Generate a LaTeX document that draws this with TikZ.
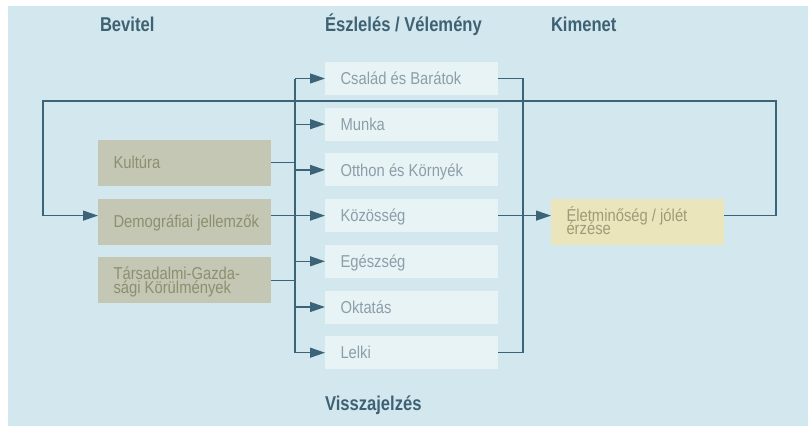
\documentclass[tikz,border=0pt]{standalone}
\usepackage{fontspec}
\usepackage{tikz}
\usetikzlibrary{arrows.meta,positioning}

\newfontfamily\boxfont{Liberation Sans}[FakeStretch=0.86]
\newfontfamily\headfont{Liberation Sans Bold}[FakeStretch=0.83]

\definecolor{bgblue}{HTML}{D3E7EE}
\definecolor{midfill}{HTML}{E8F3F6}
\definecolor{tanfill}{HTML}{C5C7B5}
\definecolor{outfill}{HTML}{EBE5BC}
\definecolor{linecol}{HTML}{3B6478}
\definecolor{headcol}{HTML}{3E6274}
\definecolor{midtext}{HTML}{8C9EA8}
\definecolor{tantext}{HTML}{8D8F6E}
\definecolor{outtext}{HTML}{A09A78}

\begin{document}
\begin{tikzpicture}[x=1pt,y=-1pt,line width=1.2pt,draw=linecol,
  >={Triangle[length=15pt,width=10pt]}]
\tikzstyle{every node}=[outer sep=0pt,inner ysep=0pt,inner xsep=15.5pt,text width=142pt,
  align=flush left,
  font={\boxfont\fontsize{17.2pt}{13.5pt}\selectfont\lineskiplimit=-20pt},
  text height=12.3pt,text depth=0pt]
\tikzstyle{midbox}=[fill=midfill,text=midtext,minimum height=33pt]
\tikzstyle{inbox}=[fill=tanfill,text=tantext,minimum height=46pt]
\tikzstyle{outbox}=[fill=outfill,text=outtext,minimum height=46pt]
\tikzstyle{twolines}=[text depth=13.5pt]
\tikzstyle{head}=[anchor=base west,inner sep=0pt,text width=,text height=,text depth=,
  text=headcol,font={\headfont\fontsize{20pt}{22pt}\selectfont}]

\useasboundingbox (0,0) rectangle (808,426);
\fill[bgblue] (8,6) rectangle (808,426);

% column titles
\node[head] (tin)   at (100,31) {Bevitel};
\node[head] (tmid)  at (325,31) {Észlelés / Vélemény};
\node[head] (tout)  at (551,31) {Kimenet};
\node[head] (tback) at (325,410) {Visszajelzés};

% perception boxes
\node[midbox] (csalad)   at (411.5,78.5)        {Család és Barátok};
\node[midbox] (munka)    [below=12.7pt of csalad]   {Munka};
\node[midbox] (otthon)   [below=12.7pt of munka]    {Otthon és Környék};
\node[midbox] (kozosseg) [below=12.7pt of otthon]   {Közösség};
\node[midbox] (egeszseg) [below=12.7pt of kozosseg] {Egészség};
\node[midbox] (oktatas)  [below=12.7pt of egeszseg] {Oktatás};
\node[midbox] (lelki)    [below=12.7pt of oktatas]  {Lelki};

% input boxes
\node[inbox] (demog)   at (184.5,221.5)       {\mbox{Demográfiai jellemzők}};
\node[inbox] (kultura) [above=12.9pt of demog] {Kultúra};
\node[inbox,twolines] (tars) [below=12.9pt of demog] {Társadalmi-Gazda-\\sági Körülmények};

% output box
\node[outbox,twolines] (output) at (637.5,222) {Életminőség / jólét\\érzése};

\coordinate (lbus) at (295,215);
\coordinate (rbus) at (523,215);
\coordinate (fbr)  at (776,101);
\coordinate (fbl)  at (43,101);

\draw (kultura.east) -- (kultura -| lbus);
\draw (kozosseg -| demog.east) -- (kozosseg -| lbus);
\draw (tars.east) -- (tars -| lbus);
\draw (csalad -| lbus) -- (lelki -| lbus);
\foreach \m in {csalad,munka,otthon,kozosseg,egeszseg,oktatas,lelki}
  \draw[->] (\m -| lbus) -- (\m.west);

\draw (csalad.east) -| (rbus) |- (lelki.east);
\draw[->] (kozosseg.east) -- (kozosseg -| output.west);

% feedback
\draw[->] (output.east |- kozosseg) -| (fbr) -- (fbl) |- (kozosseg -| demog.west);
\end{tikzpicture}
\end{document}
